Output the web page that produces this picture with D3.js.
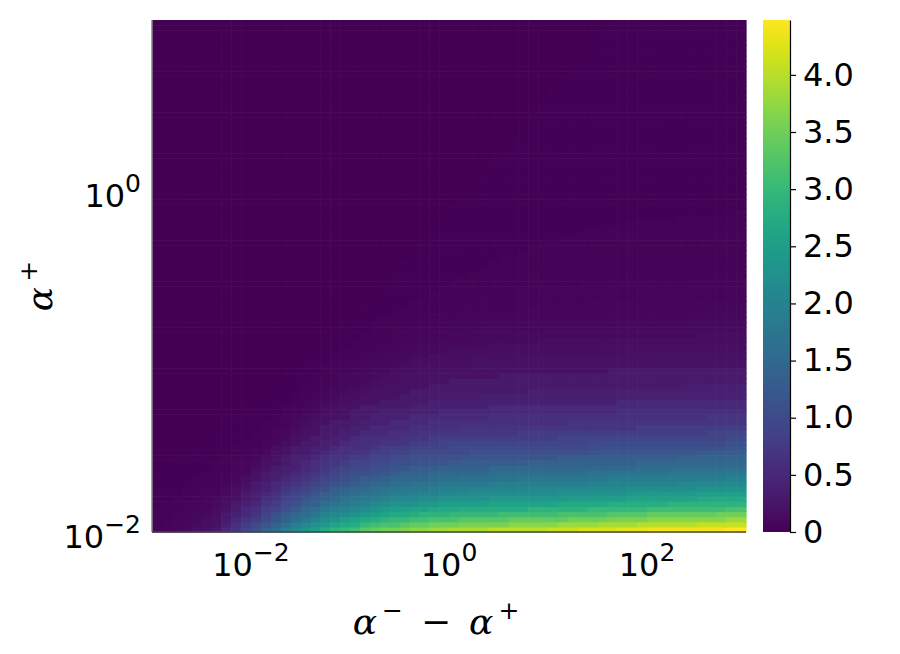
<!DOCTYPE html>
<html>
<head>
<meta charset="utf-8">
<script src="https://cdn.jsdelivr.net/npm/d3@7"></script>
<style>
  body { margin: 0; background: #fff; }
  svg { font-family: "DejaVu Sans", sans-serif; }
</style>
</head>
<body>
<svg id="chart" width="900" height="654"></svg>
<script>
// axis extents and ticks
const xDomain = [1e-3, 1e3];
const yDomain = [1e-2, 1e1];
const xTicks = [1e-2, 1e0, 1e2];
const xTickExp = ["\u22122", "0", "2"];
const yTicks = [1e-2, 1e0];
const yTickExp = ["\u22122", "0"];
const colorMax = 4.48;
const colorTicks = [0, 0.5, 1, 1.5, 2, 2.5, 3, 3.5, 4];

// heatmap values, one char per cell.
// level index k in `levels`: k < 10 -> k * 0.02, otherwise (k - 8) / 10
// rows go from the bottom (alpha+ = 1e-2) to the top, columns from left to right
const levels = "0123456789ABCDEFGHIJKLMNOPQRSTUVWXYZabcdefghijklmnopqr";
const rows = [
  "33468ABDFH JMORTVXZbc dfghhijjkk llllmmmmmm nnnooooppp qqqqqqqqrr",
  "234568ACEG IKMORTVWYZ acdeefgghh hiiiiijjjj jkkkkllllm mmmmmnnnnn",
  "223457ABDF GIKMOQSUVX YZabccddee efffffgggg gghhhhiiii jjjjjjjjkk",
  "2234568BCD FHJLNOQSTU VWXYZZabbb cccccddddd deeeeeffff ggggggghhh",
  "2223457ABD EGHJLNOQRS TUVWXXYYZZ Zaaaaaaabb bbbbcccccc ddddddddee",
  "12233468BC DFGIJLMOPQ RSTUVVVWWX XXXXYYYYYY YZZZZZaaaa aabbbbbbbb",
  "11223457AB CEFHIKLMNP QQRSTTTUUV VVVVWWWWWW WWXXXXXXYY YYYYYZZZZZ",
  "111223468B CDEGHIKLMN OPPQRRSSST TTUUUUUUUU UVVVVVVVWW WWWWWXXXXX",
  "111223357A BCDFGHIJLM NNOPPQQQRR RSSSSSSSTT TTTTTTTTUU UUUUUVVVVV",
  "1111223469 BCDEFGHIJK LMNNOOPPPQ QQQQRRRRRR RRRRSSSSSS SSSTTTTTTT",
  "1111223357 ABCDEFGHIJ KLLMNNNNOO OPPPPPPQQQ QQQQQQRRRR RRRRRRRRSS",
  "1111122345 ABCCDEFGHI JJKKLMMMNN NNNNOOOOOO OOOOPPPPPP PPQQQQQQQQ",
  "0111112234 7ABCCDEFGH IIJJKKLLLM MMMMNNNNNN NNNNNNNNNO OOOOOOOOOO",
  "0011112234 6AABCDEFFG HHIIJJJKKK LLLLLLLLMM MMMMMMMMMN NNNNNNNNNN",
  "0011111223 47ABCCDEFF GGHHIIJJJJ JKKKKKKKKK KLLLLLLLLL LLLMMMMMMM",
  "0001111122 45AABBCDEE FFGGHHIIII IIJJJJJJJJ JJJJKKKKKK KKKKKLLLLL",
  "0000111122 347ABBCCDE EEFGGGHHHH IIIIIIIIII IIIIIJJJJJ JJJJJJJJKK",
  "0000111112 2458ABBCCD EEEFFFGGGH HHHHHHHHHH HHHHIIIIII IIIIIIIIJJ",
  "0000011111 23469ABBCC DEEEEFFFGG GGGGGGGGGG GHHHHHHHHH HHHHHHHHII",
  "0000001111 22457AABBC CDDDEEEFFF FFFFFFFGGG GGGGGGGGGG GGGGGGHHHH",
  "0000000111 123468ABBB CCDDDDEEEE EFFFFFFFFF FFFFFFFFFG GGGGGGGGGG",
  "0000000111 1223579ABB BCCCDDDDEE EEEEEEEEEE EEFFFFFFFF FFFFFFFFFF",
  "0000000011 11234679AA BBCCCCDDDD DDDDEEEEEE EEEEEEEEEE EEEEEEFFFF",
  "0000000001 111235689A BBBCCCCCCD DDDDDDDDDD DDDDDDDEEE EEEEEEEEEE",
  "0000000001 111234578A ABBBBBCCCC CCCCDDDDDD DDDDDDDDDD DDDDDDDDDD",
  "0000000000 1111234678 AAABBBBBCC CCCCCCCCCC CCCCCCCDDD DDDDDDDDDD",
  "0000000000 0111234567 8AAAABBBBB BBBCCCCCCC CCCCCCCCCC CCCCCCCCCC",
  "0000000000 0111123456 789AAABBBB BBBBBBBBCC CCCCCCCCCC CCCCCCCCCC",
  "0000000000 0011122345 6789AAAABB BBBBBBBBBB BBBBBBBBBB BBBBCCCCCC",
  "0000000000 0001112345 56789AAAAA BBBBBBBBBB BBBBBBBBBB BBBBBBBBBB",
  "0000000000 0001112234 5667899AAA AAAAABBBBB BBBBBBBBBB BBBBBBBBBB",
  "0000000000 0000111233 456678899A AAAAAAAAAA AAAAAABBBB BBBBBBBBBB",
  "0000000000 0000011223 3455677889 99AAAAAAAA AAAAAAAAAA AAAAAAAAAA",
  "0000000000 0000011122 3445567778 8899999AAA AAAAAAAAAA AAAAAAAAAA",
  "0000000000 0000001122 3344556677 7888889999 9999999999 AAAAAAAAAA",
  "0000000000 0000001112 2334455666 7777788888 8888888899 9999999999",
  "0000000000 0000000111 2233444556 6666777777 7777788888 8888888888",
  "0000000000 0000000111 2223344455 5566666667 7777777777 7777777777",
  "0000000000 0000000011 1222333444 5555556666 6666666666 6666677777",
  "0000000000 0000000011 1122233344 4455555555 6666666666 6666666666",
  "0000000000 0000000001 1122223334 4444555555 5555555555 5555666666",
  "0000000000 0000000001 1112222333 3444444444 5555555555 5555555555",
  "0000000000 0000000000 1111222233 3333444444 4444444444 4444455555",
  "0000000000 0000000000 0111122223 3333333444 4444444444 4444444444",
  "0000000000 0000000000 0111112222 2333333333 3333444444 4444444444",
  "0000000000 0000000000 0011111222 2223333333 3333333333 3333333333",
  "0000000000 0000000000 0011111122 2222223333 3333333333 3333333333",
  "0000000000 0000000000 0001111112 2222222223 3333333333 3333333333",
  "0000000000 0000000000 0001111111 2222222222 2223333333 3333333333",
  "0000000000 0000000000 0000111111 1222222222 2222222222 2222233333",
  "0000000000 0000000000 0000111111 1122222222 2222222222 2222222222",
  "0000000000 0000000000 0000011111 1112222222 2222222222 2222222222",
  "0000000000 0000000000 0000011111 1111222222 2222222222 2222222222",
  "0000000000 0000000000 0000001111 1111122222 2222222222 2222222222",
  "0000000000 0000000000 0000001111 1111111222 2222222222 2222222222",
  "0000000000 0000000000 0000000111 1111111122 2222222222 2222222222",
  "0000000000 0000000000 0000000111 1111111112 2222222222 2222222222",
  "0000000000 0000000000 0000000011 1111111111 1222222222 2222222222",
  "0000000000 0000000000 0000000011 1111111111 1112222222 2222222222",
  "0000000000 0000000000 0000000001 1111111111 1111122222 2222222222",
  "0000000000 0000000000 0000000001 1111111111 1111111122 2222222222",
  "0000000000 0000000000 0000000000 1111111111 1111111111 1112222222",
  "0000000000 0000000000 0000000000 1111111111 1111111111 1111111112",
  "0000000000 0000000000 0000000000 1111111111 1111111111 1111111111",
  "0000000000 0000000000 0000000000 0111111111 1111111111 1111111111",
  "0000000000 0000000000 0000000000 0111111111 1111111111 1111111111",
  "0000000000 0000000000 0000000000 0011111111 1111111111 1111111111",
  "0000000000 0000000000 0000000000 0011111111 1111111111 1111111111",
  "0000000000 0000000000 0000000000 0001111111 1111111111 1111111111",
  "0000000000 0000000000 0000000000 0001111111 1111111111 1111111111",
  "0000000000 0000000000 0000000000 0001111111 1111111111 1111111111",
  "0000000000 0000000000 0000000000 0000111111 1111111111 1111111111",
  "0000000000 0000000000 0000000000 0000111111 1111111111 1111111111",
  "0000000000 0000000000 0000000000 0000011111 1111111111 1111111111",
  "0000000000 0000000000 0000000000 0000011111 1111111111 1111111111",
  "0000000000 0000000000 0000000000 0000001111 1111111111 1111111111",
  "0000000000 0000000000 0000000000 0000001111 1111111111 1111111111",
  "0000000000 0000000000 0000000000 0000000111 1111111111 1111111111",
  "0000000000 0000000000 0000000000 0000000111 1111111111 1111111111",
  "0000000000 0000000000 0000000000 0000000111 1111111111 1111111111",
  "0000000000 0000000000 0000000000 0000000011 1111111111 1111111111",
  "0000000000 0000000000 0000000000 0000000011 1111111111 1111111111",
  "0000000000 0000000000 0000000000 0000000001 1111111111 1111111111",
  "0000000000 0000000000 0000000000 0000000001 1111111111 1111111111",
  "0000000000 0000000000 0000000000 0000000000 1111111111 1111111111",
  "0000000000 0000000000 0000000000 0000000000 1111111111 1111111111",
  "0000000000 0000000000 0000000000 0000000000 1111111111 1111111111",
  "0000000000 0000000000 0000000000 0000000000 0111111111 1111111111",
  "0000000000 0000000000 0000000000 0000000000 0111111111 1111111111",
  "0000000000 0000000000 0000000000 0000000000 0011111111 1111111111",
  "0000000000 0000000000 0000000000 0000000000 0011111111 1111111111",
  "0000000000 0000000000 0000000000 0000000000 0001111111 1111111111",
  "0000000000 0000000000 0000000000 0000000000 0001111111 1111111111",
  "0000000000 0000000000 0000000000 0000000000 0001111111 1111111111",
  "0000000000 0000000000 0000000000 0000000000 0000111111 1111111111",
  "0000000000 0000000000 0000000000 0000000000 0000111111 1111111111",
  "0000000000 0000000000 0000000000 0000000000 0000011111 1111111111",
  "0000000000 0000000000 0000000000 0000000000 0000011111 1111111111",
  "0000000000 0000000000 0000000000 0000000000 0000011111 1111111111",
  "0000000000 0000000000 0000000000 0000000000 0000001111 1111111111"
];

const svg = d3.select("#chart");

// plot box and colorbar box
const plot = {left: 152, right: 746, top: 20, bottom: 532};
const bar = {left: 763, right: 790};

const x = d3.scaleLog().domain(xDomain).range([plot.left, plot.right]);
const y = d3.scaleLog().domain(yDomain).range([plot.bottom, plot.top]);
const color = d3.scaleSequential(d3.interpolateViridis).domain([0, colorMax]);

// decode the rows into numbers
function levelValue(c) {
  const k = levels.indexOf(c);
  return k < 10 ? k * 0.02 : (k - 8) / 10;
}
const grid = rows.map(r => r.replace(/ /g, "").split("").map(levelValue));
const nx = grid[0].length;
const ny = grid.length;

// log-spaced cell edges spanning the axis extents
const lx = d3.scaleLinear().domain([0, nx]).range(xDomain.map(Math.log10));
const ly = d3.scaleLinear().domain([0, ny]).range(yDomain.map(Math.log10));
const xEdges = d3.range(nx + 1).map(k => Math.pow(10, lx(k)));
const yEdges = d3.range(ny + 1).map(k => Math.pow(10, ly(k)));

const cells = [];
grid.forEach((row, i) => row.forEach((v, j) => cells.push({i, j, v})));

svg.append("g")
  .selectAll("rect")
  .data(cells)
  .enter()
  .append("rect")
  .attr("x", d => x(xEdges[d.j]))
  .attr("y", d => y(yEdges[d.i + 1]))
  .attr("width", d => x(xEdges[d.j + 1]) - x(xEdges[d.j]) + 0.6)
  .attr("height", d => y(yEdges[d.i]) - y(yEdges[d.i + 1]) + 0.6)
  .attr("fill", d => color(d.v));

// axis lines (left and bottom only)
svg.append("line")
  .attr("x1", plot.left).attr("x2", plot.left)
  .attr("y1", plot.top).attr("y2", plot.bottom)
  .attr("stroke", "#888").attr("stroke-width", 1.5);
svg.append("line")
  .attr("x1", plot.left).attr("x2", plot.right)
  .attr("y1", plot.bottom).attr("y2", plot.bottom)
  .attr("stroke", "#444").attr("stroke-width", 1.5);

// x tick labels 10^k
xTicks.forEach((t, k) => {
  const txt = svg.append("text")
    .attr("x", x(t))
    .attr("y", 576)
    .attr("text-anchor", "middle")
    .attr("font-size", 32)
    .text("10");
  txt.append("tspan")
    .attr("dy", -15)
    .attr("font-size", 25)
    .text(xTickExp[k]);
});

// y tick labels 10^k
yTicks.forEach((t, k) => {
  const txt = svg.append("text")
    .attr("x", 141)
    .attr("y", y(t) + 16)
    .attr("text-anchor", "end")
    .attr("font-size", 32)
    .text("10");
  txt.append("tspan")
    .attr("dy", -15)
    .attr("font-size", 25)
    .text(yTickExp[k]);
});

// axis titles
const xLabel = svg.append("text")
  .attr("x", 436)
  .attr("y", 634)
  .attr("text-anchor", "middle")
  .attr("font-family", "'DejaVu Serif', serif")
  .attr("font-size", 36);
xLabel.append("tspan").attr("font-style", "italic").text("\u03b1");
xLabel.append("tspan").attr("font-size", 25).attr("dy", -15).text("\u2009\u2212");
xLabel.append("tspan").attr("dy", 15).text("\u2002\u2212\u2002");
xLabel.append("tspan").attr("font-style", "italic").text("\u03b1");
xLabel.append("tspan").attr("font-size", 25).attr("dy", -15).text("\u2009+");

const yLabel = svg.append("text")
  .attr("transform", "translate(52,286) rotate(-90)")
  .attr("text-anchor", "middle")
  .attr("font-family", "'DejaVu Serif', serif")
  .attr("font-size", 36);
yLabel.append("tspan").attr("font-style", "italic").text("\u03b1");
yLabel.append("tspan").attr("font-size", 25).attr("dy", -15).text("\u2009+");

// colorbar
const cy = d3.scaleLinear().domain([0, colorMax]).range([plot.bottom, plot.top]);
const grad = svg.append("defs").append("linearGradient")
  .attr("id", "cbar")
  .attr("x1", 0).attr("x2", 0).attr("y1", 1).attr("y2", 0);
grad.selectAll("stop")
  .data(d3.range(0, 1.0001, 0.02))
  .enter()
  .append("stop")
  .attr("offset", d => d)
  .attr("stop-color", d => d3.interpolateViridis(d));

svg.append("rect")
  .attr("x", bar.left)
  .attr("y", plot.top)
  .attr("width", bar.right - bar.left)
  .attr("height", plot.bottom - plot.top)
  .attr("fill", "url(#cbar)");

const cAxis = svg.append("g")
  .attr("transform", `translate(${bar.right},0)`)
  .call(d3.axisRight(cy)
    .tickValues(colorTicks)
    .tickSize(6)
    .tickSizeOuter(0)
    .tickPadding(7)
    .tickFormat(d => d === 0 ? "0" : d3.format(".1f")(d)));
cAxis.attr("font-size", 32).attr("font-family", "'DejaVu Sans', sans-serif");
cAxis.selectAll("path, line").attr("stroke", "#000").attr("stroke-width", 1.2);
cAxis.selectAll("text").attr("fill", "#000");
</script>
</body>
</html>
